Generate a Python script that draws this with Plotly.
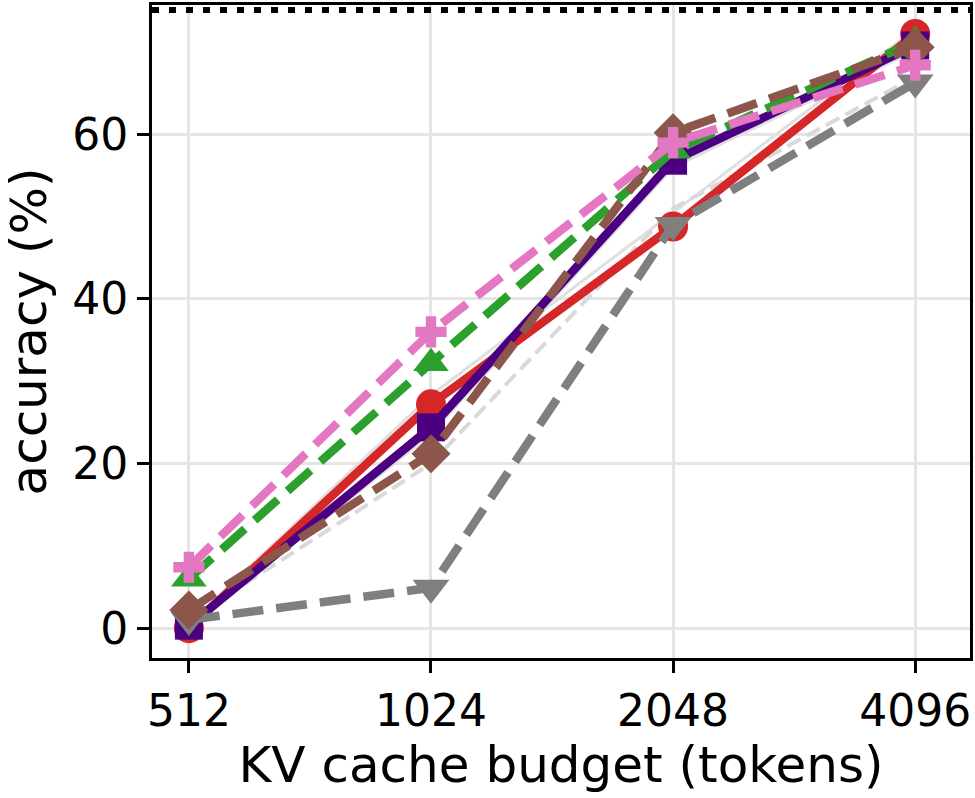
import plotly.graph_objects as go

budgets = [512, 1024, 2048, 4096]
tick_labels = ["512", "1024", "2048", "4096"]

shadow_a = [0.5, 28.3, 50.5, 72.8]
shadow_b = [0.0, 23.6, 56.0, 70.2]
light_dashed = [1.0, 20.0, 51.0, 67.0]
red_vals = [0.0, 27.2, 48.8, 72.2]
purple_vals = [0.3, 24.4, 56.8, 70.8]
green_vals = [6.0, 32.2, 58.0, 71.3]
gray_vals = [1.0, 4.9, 49.0, 66.3]
brown_vals = [2.2, 21.2, 60.2, 70.6]
pink_vals = [7.4, 36.0, 59.0, 68.4]
upper_bound = 75.1

FONT = "DejaVu Sans"
fig = go.Figure()

def add(vals, color, width, dash, symbol=None, msize=0):
    mode = "lines+markers" if symbol else "lines"
    fig.add_trace(go.Scatter(
        x=budgets, y=vals, mode=mode,
        line=dict(color=color, width=width, dash=dash),
        marker=dict(symbol=symbol or "circle", size=msize, color=color, line=dict(width=0)),
        showlegend=False, cliponaxis=False,
    ))

DASH = "31px,13px"
add(shadow_a, "#e0e0e0", 3, "solid")
add(shadow_b, "#e0e0e0", 3, "solid")
add(light_dashed, "#d9d9d9", 4, "15px,7px")
add(red_vals, "#d62728", 8.5, "solid", "circle", 30)
add(purple_vals, "#4b0082", 8.5, "solid", "square", 28)
add(green_vals, "#2ca02c", 8.5, DASH, "triangle-up", 31)
add(gray_vals, "#7f7f7f", 8.5, DASH, "triangle-down", 32)
add(brown_vals, "#8c564b", 8.5, DASH, "diamond", 30)
add(pink_vals, "#e377c2", 8.5, DASH, "cross", 26)

fig.add_hline(y=upper_bound, line=dict(color="black", width=6, dash="7px,10px"))

fig.update_layout(
    width=975, height=798,
    margin=dict(l=152, r=3, t=2, b=140),
    plot_bgcolor="white", paper_bgcolor="white",
    font=dict(family=FONT, size=44, color="black"),
)
fig.update_xaxes(
    type="log", range=[2.6634, 3.6805],
    tickvals=budgets, ticktext=tick_labels,
    showgrid=True, gridcolor="#e5e5e5", gridwidth=3,
    showline=True, linecolor="black", linewidth=3, mirror=True,
    ticks="outside", ticklen=12, tickwidth=3, tickcolor="black",
    tickfont=dict(size=44, family=FONT),
    title=dict(text="KV cache budget (tokens)", font=dict(size=50, family=FONT), standoff=12),
    zeroline=False,
)
fig.update_yaxes(
    range=[-3.63, 75.72],
    tickvals=[0, 20, 40, 60],
    showgrid=True, gridcolor="#e5e5e5", gridwidth=3,
    showline=True, linecolor="black", linewidth=3, mirror=True,
    ticks="outside", ticklen=12, tickwidth=3, tickcolor="black",
    tickfont=dict(size=44, family=FONT),
    title=dict(text="accuracy (%)", font=dict(size=50, family=FONT), standoff=12),
    zeroline=False,
)

fig.write_html("out.html")
